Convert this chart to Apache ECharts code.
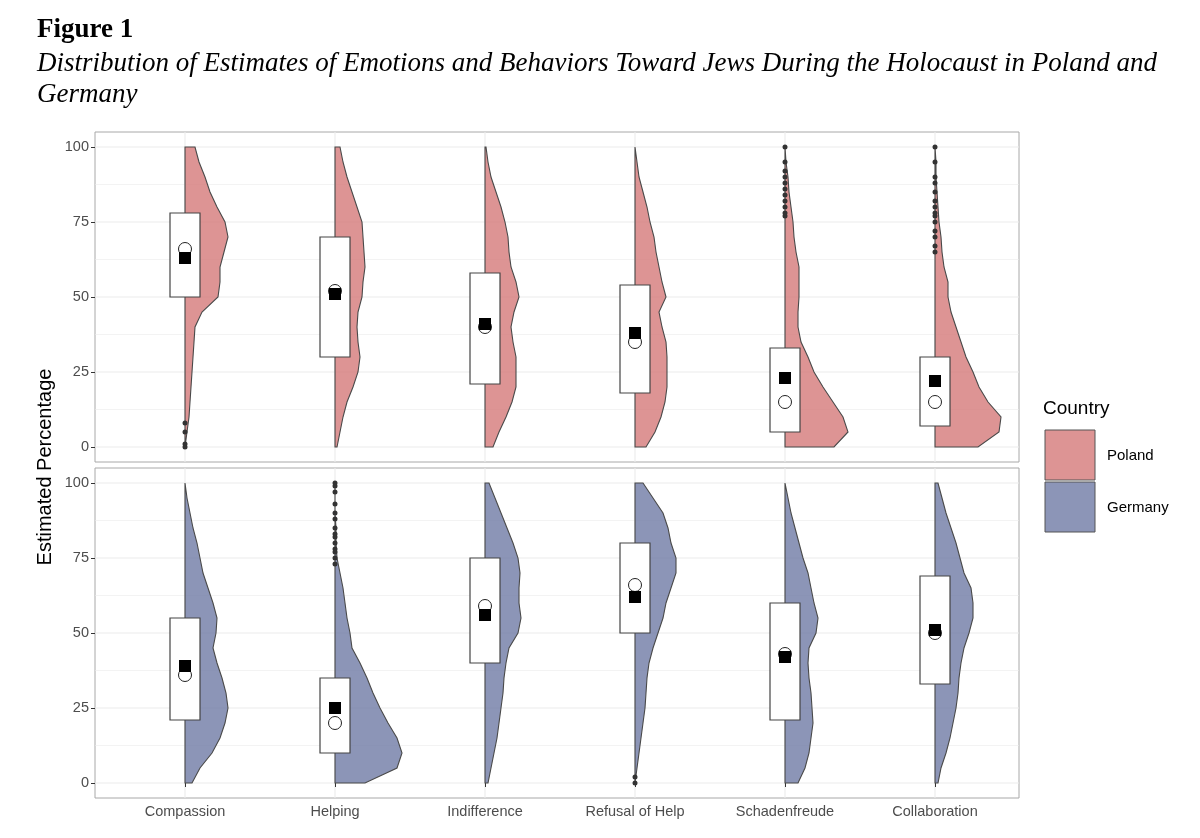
<!DOCTYPE html>
<html><head><meta charset="utf-8">
<script src="https://cdn.jsdelivr.net/npm/echarts@6/dist/echarts.min.js"></script>
<style>html,body{margin:0;padding:0;background:#fff}#c{width:1200px;height:838px}</style>
</head><body><div id="c"></div>
<script>
const categories = ['Compassion','Helping','Indifference','Refusal of Help','Schadenfreude','Collaboration'];
const countries = ['Poland','Germany'];
const yTicks = [0,25,50,75,100];
// density half-widths sampled at y = 0,5,...,100 (in pixels of the reference)
const densPoland = [
 [0,2,4,5,6,7,8,9,10,17,33,35,35,39,43,40,32,25,20,14,10],
 [2,5,8,12,18,23,25,23,22,23,27,28,30,29,28,27,22,17,12,8,5],
 [8,14,21,27,31,31,31,28,26,29,34,31,26,24,23,20,16,11,6,3,1],
 [11,20,26,30,32,32,32,31,27,24,31,27,24,21,19,15,12,8,4,2,0],
 [49,63,58,48,38,29,23,16,13,13,14,14,14,11,9,8,6,4,3,1,0],
 [43,64,66,53,44,38,31,26,21,16,13,13,9,7,6,4,3,2,1,1,0]
];
const densGermany = [
 [7,15,27,35,40,43,41,37,32,28,31,32,28,23,18,15,12,8,5,2,0],
 [30,62,67,62,53,45,38,32,25,17,15,12,10,8,5,2,1,1,0,0,0],
 [3,6,9,12,14,16,18,19,21,24,33,36,34,34,35,33,28,22,16,10,4],
 [0,2,4,6,8,10,11,12,14,18,23,28,31,36,41,41,36,33,28,18,8],
 [13,20,24,26,28,27,26,24,23,24,31,33,29,26,23,18,14,10,6,3,0],
 [3,6,11,15,18,21,23,24,26,29,34,38,38,36,29,25,21,16,11,7,3]
];
const q1Poland = [50,30,21,18,5,7], q3Poland = [78,70,58,54,33,30];
const meanPoland = [63,51,41,38,23,22], medianPoland = [66,52,40,35,15,15];
const q1Germany = [21,10,40,50,21,33], q3Germany = [55,35,75,80,60,69];
const meanGermany = [39,25,56,62,42,51], medianGermany = [36,20,59,66,43,50];
const outPoland = [[0,[0,1,5,8]],[4,[77,78,80,82,84,86,88,90,92,95,100]],[5,[65,67,70,72,75,77,78,80,82,85,88,90,95,100]]];
const outGermany = [[1,[73,75,77,78,80,82,83,85,88,90,93,97,99,100]],[3,[0,2]]];

const fills = {Poland:'rgba(214,125,125,0.82)', Germany:'rgba(120,130,170,0.85)'};
const PX = 150; // pixels per category unit in reference
const hLines = [0,12.5,25,37.5,50,62.5,75,87.5,100];

function panel(gi, dens, q1, q3, mean, median, outs, fill){
  const s = [];
  s.push({type:'custom',xAxisIndex:gi,yAxisIndex:gi,z:0,silent:true,data:[[0]],
    renderItem:(p,api)=>{
      const ch=[];
      hLines.forEach(v=>{const a=api.coord([0.4,v]),b=api.coord([6.56,v]);
        ch.push({type:'line',shape:{x1:a[0],y1:a[1],x2:b[0],y2:b[1]},style:{stroke:'#ebebeb',lineWidth:v%25===0?1.1:0.6}});});
      for(let i=1;i<=6;i++){const a=api.coord([i,-5]),b=api.coord([i,105]);
        ch.push({type:'line',shape:{x1:a[0],y1:a[1],x2:b[0],y2:b[1]},style:{stroke:'#ebebeb',lineWidth:1.1}});}
      return {type:'group',children:ch};
    }});
  s.push({type:'custom',xAxisIndex:gi,yAxisIndex:gi,z:2,data:dens.map((d,i)=>[i+1]),
    renderItem:(p,api)=>{
      const i=p.dataIndex, x=i+1, d=dens[i];
      const pts=[api.coord([x,0])];
      d.forEach((w,k)=>pts.push(api.coord([x+w/PX,k*5])));
      pts.push(api.coord([x,100]));
      return {type:'polygon',shape:{points:pts},style:{fill:fill,stroke:'#4a4a4a',lineWidth:1.1}};
    }});
  s.push({type:'custom',xAxisIndex:gi,yAxisIndex:gi,z:3,data:q1.map((v,i)=>[i+1,v,q3[i]]),
    renderItem:(p,api)=>{
      const x=api.value(0), a=api.coord([x-0.1,api.value(2)]), b=api.coord([x+0.1,api.value(1)]);
      return {type:'rect',shape:{x:a[0],y:a[1],width:b[0]-a[0],height:b[1]-a[1]},style:{fill:'#fff',stroke:'#444',lineWidth:1.2}};
    }});
  const od=[]; outs.forEach(([i,vals])=>vals.forEach(v=>od.push([i+1,v])));
  s.push({type:'scatter',xAxisIndex:gi,yAxisIndex:gi,z:4,symbol:'circle',symbolSize:5,itemStyle:{color:'#333',opacity:1},data:od});
  s.push({type:'scatter',xAxisIndex:gi,yAxisIndex:gi,z:5,symbol:'circle',symbolSize:13,itemStyle:{color:'#fff',borderColor:'#222',borderWidth:1,opacity:1},data:median.map((v,i)=>[i+1,v])});
  s.push({type:'scatter',xAxisIndex:gi,yAxisIndex:gi,z:6,symbol:'rect',symbolSize:12,itemStyle:{color:'#000',opacity:1},data:mean.map((v,i)=>[i+1,v])});
  return s;
}
const catVals = categories.map((c,i)=>i+1);
function xAxis(gi,showLabels){
  return {type:'value',gridIndex:gi,min:0.4,max:6.56,axisLine:{show:false},splitLine:{show:false},
    axisTick:{show:showLabels,customValues:catVals,length:4,lineStyle:{color:'#333'}},
    axisLabel:{show:showLabels,customValues:catVals,formatter:v=>categories[Math.round(v)-1]||'',color:'#4d4d4d',fontSize:14.5,fontFamily:'Liberation Sans',margin:6}};
}
function yAxis(gi){
  return {type:'value',gridIndex:gi,min:-5,max:105,axisLine:{show:false},splitLine:{show:false},
    axisTick:{show:true,customValues:yTicks,length:4,lineStyle:{color:'#333'}},
    axisLabel:{customValues:yTicks,color:'#4d4d4d',fontSize:14.5,fontFamily:'Liberation Sans',margin:6}};
}
const chart = echarts.init(document.getElementById('c'));
chart.setOption({
  animation:false,
  grid:[{left:95,top:132,width:924,height:330,show:true,borderColor:'#a8a8a8',borderWidth:1},
        {left:95,top:468,width:924,height:330,show:true,borderColor:'#a8a8a8',borderWidth:1}],
  xAxis:[xAxis(0,false),xAxis(1,true)],
  yAxis:[yAxis(0),yAxis(1)],
  series:[...panel(0,densPoland,q1Poland,q3Poland,meanPoland,medianPoland,outPoland,fills.Poland),
          ...panel(1,densGermany,q1Germany,q3Germany,meanGermany,medianGermany,outGermany,fills.Germany)],
  graphic:[
    {type:'text',left:37,top:17,style:{text:'Figure 1',font:'bold 27px "Liberation Serif"',fill:'#000'}},
    {type:'text',left:37,top:50,style:{text:'Distribution of Estimates of Emotions and Behaviors Toward Jews During the Holocaust in Poland and',font:'italic 27px "Liberation Serif"',fill:'#000'}},
    {type:'text',left:37,top:81,style:{text:'Germany',font:'italic 27px "Liberation Serif"',fill:'#000'}},
    {type:'text',x:45,y:467,rotation:Math.PI/2,style:{text:'Estimated Percentage',font:'20px "Liberation Sans"',fill:'#000',align:'center',verticalAlign:'middle'}},
    {type:'text',left:1043,top:399,style:{text:'Country',font:'19px "Liberation Sans"',fill:'#000'}},
    {type:'rect',shape:{x:1045,y:430,width:50,height:50},style:{fill:fills.Poland,stroke:'#555',lineWidth:1}},
    {type:'rect',shape:{x:1045,y:482,width:50,height:50},style:{fill:fills.Germany,stroke:'#555',lineWidth:1}},
    {type:'text',left:1107,top:448,style:{text:'Poland',font:'15px "Liberation Sans"',fill:'#000'}},
    {type:'text',left:1107,top:500,style:{text:'Germany',font:'15px "Liberation Sans"',fill:'#000'}}
  ]
});
</script></body></html>
